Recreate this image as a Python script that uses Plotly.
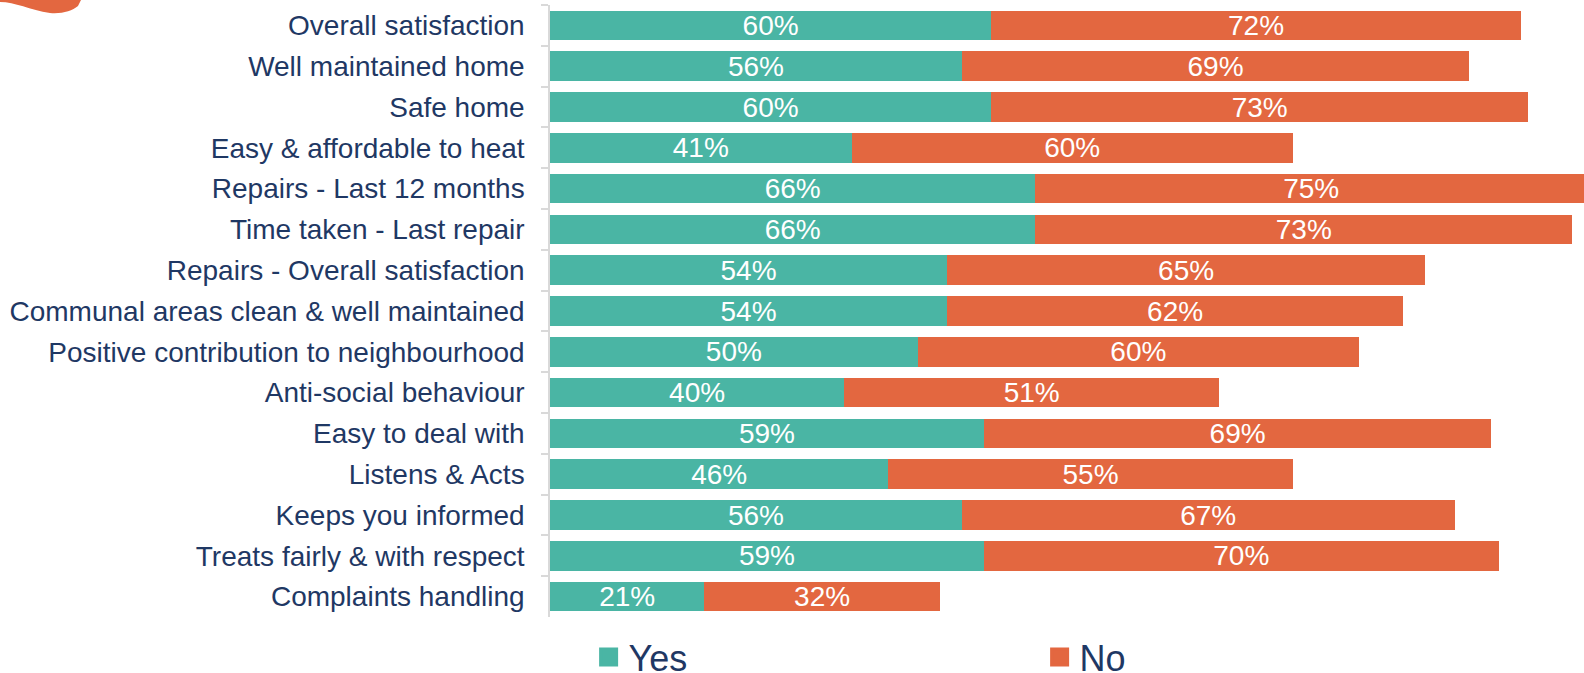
import plotly.graph_objects as go

categories = [
    "Overall satisfaction",
    "Well maintained home",
    "Safe home",
    "Easy & affordable to heat",
    "Repairs - Last 12 months",
    "Time taken - Last repair",
    "Repairs - Overall satisfaction",
    "Communal areas clean & well maintained",
    "Positive contribution to neighbourhood",
    "Anti-social behaviour",
    "Easy to deal with",
    "Listens & Acts",
    "Keeps you informed",
    "Treats fairly & with respect",
    "Complaints handling",
]
yes_values = [60, 56, 60, 41, 66, 66, 54, 54, 50, 40, 59, 46, 56, 59, 21]
no_values = [72, 69, 73, 60, 75, 73, 65, 62, 60, 51, 69, 55, 67, 70, 32]

TEAL = "#4AB5A4"
ORANGE = "#E36740"
NAVY = "#1F3864"
GRID = "#D9D9D9"
FONT = "Liberation Sans, Arial, sans-serif"

W, H = 1584, 673
ML, MR, MT, MB = 550, 0, 5, 56

fig = go.Figure()
for name, vals, col in [("Yes", yes_values, TEAL), ("No", no_values, ORANGE)]:
    fig.add_trace(go.Bar(
        y=categories, x=vals, orientation="h", name=name,
        marker=dict(color=col, line=dict(width=0)),
        text=[f"{v}%" for v in vals], textposition="inside",
        insidetextanchor="middle", constraintext="none",
        textfont=dict(color="white", size=28, family=FONT),
        showlegend=False, hoverinfo="skip",
    ))
    # legend proxy
    fig.add_trace(go.Scatter(
        x=[None], y=[None], mode="markers", name=name,
        marker=dict(symbol="square", size=16, color=col, line=dict(width=3, color=col)),
        showlegend=True,
    ))

# decorative swoosh (pixel -> paper conversion)
pw, ph = W - ML - MR, H - MT - MB
def px(x):
    return (x - ML) / pw
def py(y):
    return (H - MB - y) / ph
pts = [("M", [(0, 0)]), ("L", [(0, 2)]), ("C", [(15, 2), (30, 10), (50, 13)]),
       ("C", [(62, 14), (72, 11), (78, 6)]), ("L", [(81, 0)])]
path = " ".join(cmd + " " + " ".join(f"{px(a):.5f},{py(b):.5f}" for a, b in p) for cmd, p in pts) + " Z"
fig.add_shape(type="path", path=path, xref="paper", yref="paper",
              fillcolor=ORANGE, line=dict(width=0), layer="above")

fig.update_layout(
    width=W, height=H,
    margin=dict(l=ML, r=MR, t=MT, b=MB, pad=0, autoexpand=False),
    barmode="stack", bargap=0.27,
    plot_bgcolor="white", paper_bgcolor="white",
    font=dict(family=FONT, color=NAVY),
    xaxis=dict(visible=False, range=[0, 140.6], showgrid=False, zeroline=False,
               automargin=False),
    yaxis=dict(
        autorange="reversed", showline=True, linecolor=GRID, linewidth=1.5,
        ticks="outside", tickson="boundaries", ticklen=7, tickcolor=GRID, tickwidth=1.5,
        tickfont=dict(size=28, color=NAVY, family=FONT), ticklabelstandoff=18,
        showgrid=False, automargin=False,
    ),
    legend=dict(
        orientation="h", xref="container", yref="container",
        x=0.3716, xanchor="left", y=1 - 657 / 673, yanchor="middle",
        font=dict(size=36, color=NAVY, family=FONT), entrywidth=406,
        itemsizing="trace", bgcolor="rgba(0,0,0,0)", traceorder="normal",
    ),
)

fig.write_html(
    "out.html",
    config={"displayModeBar": False},
    post_script="document.body.style.margin='0';document.body.style.overflow='hidden';",
)
